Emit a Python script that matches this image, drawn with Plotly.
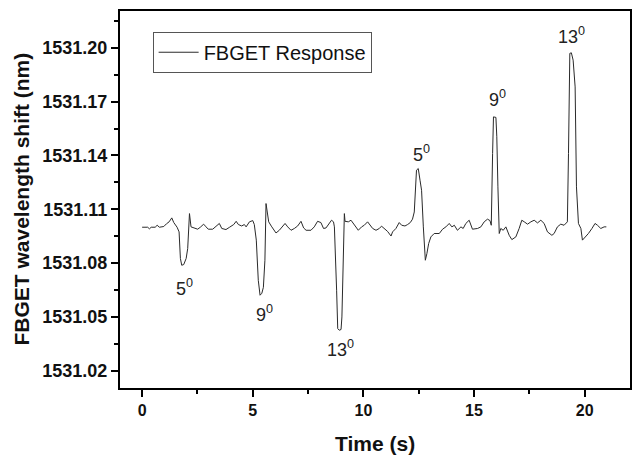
import plotly.graph_objects as go

# FBGET response
time_s = [0.00, 0.25, 0.33, 0.41, 0.59, 0.68, 0.78, 0.98, 1.10, 1.22, 1.34, 1.43, 1.58, 1.67,
          1.73, 1.79, 1.88, 1.99, 2.06, 2.14, 2.21, 2.33, 2.51, 2.63, 2.78, 2.89, 2.99, 3.19,
          3.34, 3.49, 3.60, 3.79, 3.94, 4.14, 4.25, 4.35, 4.50, 4.62, 4.70, 4.85, 5.00, 5.07,
          5.16, 5.25, 5.33, 5.41, 5.48, 5.55, 5.60, 5.66, 5.72, 5.84, 5.90, 6.05, 6.20, 6.35,
          6.46, 6.58, 6.73, 6.88, 7.03, 7.18, 7.30, 7.41, 7.63, 7.78, 7.93, 8.08, 8.20, 8.31,
          8.46, 8.56, 8.65, 8.69, 8.79, 8.84, 8.91, 8.99, 9.03, 9.09, 9.14, 9.17, 9.32, 9.44,
          9.56, 9.67, 9.77, 9.92, 10.04, 10.19, 10.31, 10.42, 10.57, 10.72, 10.82, 10.94,
          11.09, 11.25, 11.32, 11.47, 11.62, 11.73, 11.88, 12.00, 12.12, 12.22, 12.30, 12.40,
          12.48, 12.56, 12.63, 12.71, 12.80, 12.87, 12.95, 13.05, 13.20, 13.43, 13.58, 13.73,
          13.88, 14.00, 14.11, 14.25, 14.41, 14.51, 14.63, 14.78, 14.86, 14.93, 15.16, 15.31,
          15.46, 15.61, 15.72, 15.78, 15.84, 15.88, 15.99, 16.03, 16.08, 16.14, 16.21, 16.32,
          16.44, 16.59, 16.71, 16.89, 17.04, 17.16, 17.27, 17.42, 17.57, 17.72, 17.87, 18.02,
          18.17, 18.32, 18.52, 18.62, 18.77, 18.92, 19.07, 19.22, 19.27, 19.33, 19.40, 19.48,
          19.57, 19.63, 19.72, 19.83, 19.90, 20.05, 20.17, 20.33, 20.47, 20.58, 20.73, 20.88,
          20.98]
shift_nm = [1531.1000, 1531.1000, 1531.0991, 1531.1000, 1531.1000, 1531.1011, 1531.1000,
            1531.1004, 1531.1019, 1531.1030, 1531.1052, 1531.1026, 1531.1000, 1531.0974,
            1531.0826, 1531.0788, 1531.0792, 1531.0826, 1531.0881, 1531.1076, 1531.1002,
            1531.0996, 1531.0989, 1531.1000, 1531.1017, 1531.1002, 1531.0989, 1531.0989,
            1531.1007, 1531.1021, 1531.0993, 1531.0987, 1531.0999, 1531.1015, 1531.1033,
            1531.1015, 1531.1007, 1531.1015, 1531.1002, 1531.1030, 1531.1037, 1531.1015,
            1531.0928, 1531.0704, 1531.0621, 1531.0632, 1531.0665, 1531.0816, 1531.1132,
            1531.1067, 1531.1030, 1531.1006, 1531.0993, 1531.0968, 1531.0983, 1531.1002,
            1531.1021, 1531.1002, 1531.0983, 1531.0993, 1531.1007, 1531.1033, 1531.0996,
            1531.0983, 1531.0983, 1531.1002, 1531.1033, 1531.1026, 1531.0993, 1531.0996,
            1531.1021, 1531.1039, 1531.1030, 1531.1002, 1531.0649, 1531.0435, 1531.0426,
            1531.0430, 1531.0500, 1531.0834, 1531.1076, 1531.1033, 1531.1030, 1531.1039,
            1531.1021, 1531.1002, 1531.0983, 1531.1002, 1531.1011, 1531.1030, 1531.1011,
            1531.0993, 1531.0983, 1531.0993, 1531.1006, 1531.0993, 1531.0977, 1531.0951,
            1531.0974, 1531.0993, 1531.1026, 1531.1011, 1531.1007, 1531.1015, 1531.1026,
            1531.1045, 1531.1085, 1531.1318, 1531.1327, 1531.1262, 1531.1206, 1531.1002,
            1531.0816, 1531.0853, 1531.0909, 1531.0946, 1531.0965, 1531.0965, 1531.0989,
            1531.1002, 1531.1021, 1531.1002, 1531.1011, 1531.0983, 1531.1002, 1531.0993,
            1531.1021, 1531.1039, 1531.1011, 1531.0989, 1531.0993, 1531.1002, 1531.1030,
            1531.1045, 1531.1037, 1531.1011, 1531.1411, 1531.1615, 1531.1612, 1531.1504,
            1531.1225, 1531.0965, 1531.0993, 1531.0983, 1531.1002, 1531.0955, 1531.0931,
            1531.0946, 1531.0993, 1531.1039, 1531.1030, 1531.1017, 1531.1030, 1531.1039,
            1531.1024, 1531.1039, 1531.1021, 1531.0974, 1531.0955, 1531.0965, 1531.1002,
            1531.1017, 1531.1011, 1531.1030, 1531.1411, 1531.1969, 1531.1972, 1531.1931,
            1531.1782, 1531.1225, 1531.1021, 1531.0993, 1531.0928, 1531.0946, 1531.0965,
            1531.0993, 1531.1021, 1531.1011, 1531.0993, 1531.1002, 1531.1002]

# angle labels next to each peak / dip
label_text = ["5", "9", "13", "5", "9", "13"]
label_t = [1.91, 5.52, 8.96, 12.62, 16.05, 19.39]
label_v = [1531.0665, 1531.0519, 1531.0323, 1531.1411, 1531.1720, 1531.2071]

y_ticks = [1531.02, 1531.05, 1531.08, 1531.11, 1531.14, 1531.17, 1531.20]
x_ticks = [0, 5, 10, 15, 20]

font = "Liberation Sans, Arial, sans-serif"

fig = go.Figure()
fig.add_trace(go.Scatter(
    x=time_s, y=shift_nm, mode="lines", name="FBGET Response",
    line=dict(color="#2a2a2a", width=1),
))

for txt, t, v in zip(label_text, label_t, label_v):
    fig.add_annotation(x=t, y=v, text=txt + "<sup>0</sup>", showarrow=False,
                       xanchor="center", yanchor="middle",
                       font=dict(family=font, size=18, color="#222222"))

axis_common = dict(
    showline=True, linecolor="black", linewidth=2, mirror=True,
    ticks="outside", tickcolor="black", tickwidth=2, ticklen=7,
    showgrid=False, zeroline=False, automargin=False,
)

fig.update_xaxes(
    range=[-1.0, 22.05], tickvals=x_ticks,
    minor=dict(ticks="outside", tickvals=[2.5, 7.5, 12.5, 17.5],
               ticklen=4, tickwidth=2, tickcolor="black"),
    tickfont=dict(family=font, size=16, color="#111111", weight="bold"),
    **axis_common,
)
fig.update_yaxes(
    range=[1531.0104, 1531.2205], tickvals=y_ticks,
    ticktext=["<b>%.2f</b>" % v for v in y_ticks],
    minor=dict(ticks="outside",
               tickvals=[1531.035, 1531.065, 1531.095, 1531.125, 1531.155, 1531.185, 1531.215],
               ticklen=4, tickwidth=2, tickcolor="black"),
    tickfont=dict(family=font, size=18, color="#111111"),
    **axis_common,
)

# axis titles placed as paper annotations so the plot frame stays where it is
fig.add_annotation(xref="paper", yref="paper", x=0.5, y=-0.146, xanchor="center",
                   yanchor="middle", showarrow=False, text="<b>Time (s)</b>",
                   font=dict(family=font, size=21, color="#111111"))
fig.add_annotation(xref="paper", yref="paper", x=-0.194, y=0.5, xanchor="center",
                   yanchor="middle", showarrow=False, textangle=-90,
                   text="<b>FBGET wavelength shift (nm)</b>",
                   font=dict(family=font, size=21, color="#111111"))

fig.update_layout(
    width=634, height=455,
    margin=dict(l=120, r=4, t=11, b=67),
    paper_bgcolor="white", plot_bgcolor="white",
    font=dict(family=font),
    showlegend=True,
    legend=dict(x=0.064, y=0.945, xanchor="left", yanchor="top",
                bordercolor="#555555", borderwidth=1, bgcolor="white",
                font=dict(family=font, size=20, color="#111111"),
                itemwidth=40, tracegroupgap=0),
)

# drop the page's default body margin so the figure sits at the window corner
fig.write_html("out.html", config={"displayModeBar": False},
               post_script="document.body.style.margin='0';")
